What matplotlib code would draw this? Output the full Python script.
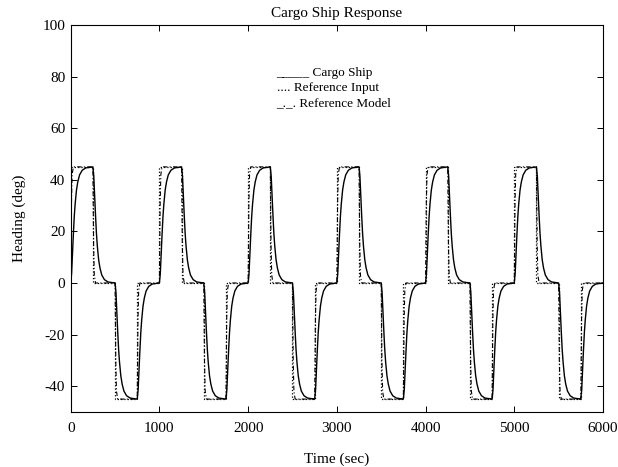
import numpy as np
import matplotlib.pyplot as plt

plt.rcParams['font.family'] = ['Liberation Serif', 'DejaVu Serif']
plt.rcParams['font.size'] = 11
plt.rcParams['axes.unicode_minus'] = False

period = 1000.0
n_periods = 6

# one period of the reference input (step times and levels)
ref_t = [0, 250, 500, 750]
ref_y = [45, 0, -45, 0]

# one period of the reference model (fast response to the input)
model_t = [0, 8, 16, 30, 250, 258, 266, 280, 500, 508, 516, 530, 750, 758, 766, 780]
model_y = [0, 30, 42, 45, 45, 15, 3, 0, 0, -30, -42, -45, -45, -15, -3, 0]

# one period of the cargo ship heading
ship_t = [0, 10, 20, 30, 40, 50, 65, 80, 100, 130, 170,
          250, 260, 270, 280, 290, 300, 315, 330, 350, 380, 420,
          500, 510, 520, 530, 540, 550, 565, 580, 600, 630, 670,
          750, 760, 770, 780, 790, 800, 815, 830, 850, 880, 920]
ship_y = [0, 3.6, 11.3, 18.9, 25.7, 30.6, 36.0, 39.2, 41.9, 43.7, 44.6,
          45, 41.4, 33.7, 26.1, 19.3, 14.4, 9.0, 5.8, 3.1, 1.3, 0.4,
          0, -3.6, -11.3, -18.9, -25.7, -30.6, -36.0, -39.2, -41.9, -43.7, -44.6,
          -45, -41.4, -33.7, -26.1, -19.3, -14.4, -9.0, -5.8, -3.1, -1.3, -0.4]


def tile(t, y, end_value):
    tt = np.concatenate([np.array(t) + k * period for k in range(n_periods)] + [[n_periods * period]])
    yy = np.concatenate([np.array(y, dtype=float)] * n_periods + [[end_value]])
    return tt, yy


t_ref, y_ref = tile(ref_t, ref_y, 0)
t_mod, y_mod = tile(model_t, model_y, 0)
t_ship, y_ship = tile(ship_t, ship_y, 0)

fig = plt.figure(figsize=(6.18, 4.67), dpi=100)
ax = fig.add_axes([0.1144, 0.1178, 0.8613, 0.8287])

ax.plot(t_ref, y_ref, color='k', linestyle=':', linewidth=0.9, drawstyle='steps-post')
ax.plot(t_mod, y_mod, color='k', linestyle=(0, (4, 2, 1, 2)), linewidth=0.8)
ax.plot(t_ship, y_ship, color='k', linestyle='-', linewidth=1.0)

ax.set_xlim(0, 6000)
ax.set_ylim(-50, 100)
ax.set_xticks(np.arange(0, 6001, 1000))
ax.set_yticks([-40, -20, 0, 20, 40, 60, 80, 100])
ax.tick_params(direction='in', length=4, width=0.7, top=True, right=True)
ax.tick_params(axis='x', pad=7)
ax.tick_params(axis='y', pad=4)
for s in ax.spines.values():
    s.set_linewidth(0.8)

ax.set_title('Cargo Ship Response', fontsize=11, pad=6)
ax.set_xlabel('Time (sec)', fontsize=11, labelpad=13)
ax.set_ylabel('Heading (deg)', fontsize=11, labelpad=12)

ax.text(2320, 81.4, '_____ Cargo Ship', fontsize=9.5, va='center')
ax.text(2320, 75.6, '.... Reference Input', fontsize=9.5, va='center')
ax.text(2320, 69.8, '_._. Reference Model', fontsize=9.5, va='center')

fig.savefig('out.png', dpi=100)
